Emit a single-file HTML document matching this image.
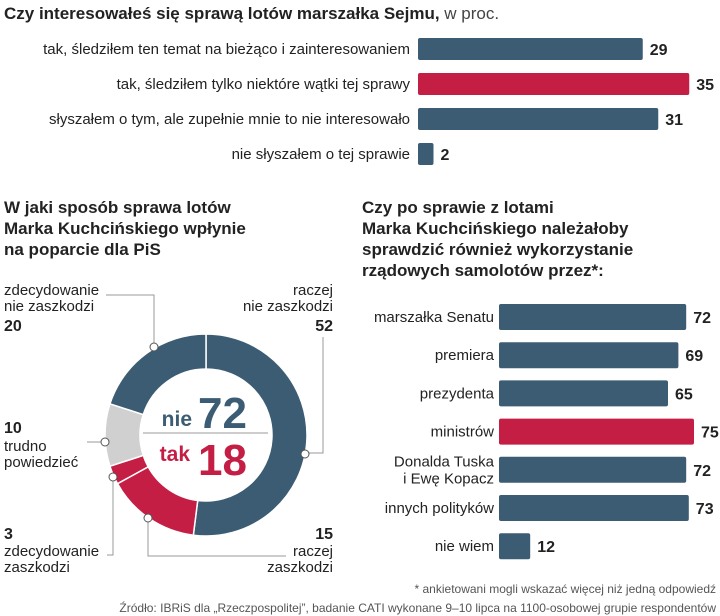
<!DOCTYPE html>
<html><head><meta charset="utf-8"><style>
body{margin:0;background:#fff;}
svg{display:block;font-family:"Liberation Sans",sans-serif;}
.lbl{font-size:15px;fill:#222;}
.val{font-size:16px;font-weight:bold;fill:#222;}
.ttl{font-size:17px;font-weight:bold;fill:#222;}
.foot{font-size:12px;fill:#555;}
</style></head><body>
<svg id="c" width="720" height="616" viewBox="0 0 720 616">
<text x="4" y="19" class="ttl">Czy interesowałeś się sprawą lotów marszałka Sejmu,<tspan font-weight="normal" fill="#444"> w proc.</tspan></text>
<g id="topchart"></g>
<text class="ttl"><tspan x="4" y="213">W jaki sposób sprawa lotów</tspan><tspan x="4" y="234">Marka Kuchcińskiego wpłynie</tspan><tspan x="4" y="255">na poparcie dla PiS</tspan></text>
<text class="ttl"><tspan x="362" y="213">Czy po sprawie z lotami</tspan><tspan x="362" y="234">Marka Kuchcińskiego należałoby</tspan><tspan x="362" y="255">sprawdzić również wykorzystanie</tspan><tspan x="362" y="276">rządowych samolotów przez*:</tspan></text>
<g id="donut"></g>
<g id="rightchart"></g>
<text x="716" y="593" text-anchor="end" class="foot">* ankietowani mogli wskazać więcej niż jedną odpowiedź</text>
<text x="716" y="612" text-anchor="end" class="foot">Źródło: IBRiS dla „Rzeczpospolitej”, badanie CATI wykonane 9–10 lipca na 1100-osobowej grupie respondentów</text>
</svg>
<script>
const BLUE="#3b5c73",RED="#c41e45",GRAY="#d0d0d0";
const topCats=["tak, śledziłem ten temat na bieżąco i zainteresowaniem","tak, śledziłem tylko niektóre wątki tej sprawy","słyszałem o tym, ale zupełnie mnie to nie interesowało","nie słyszałem o tej sprawie"];
const topVals=[29,35,31,2];
const topHi=[false,true,false,false];
const rightCats=[["marszałka Senatu"],["premiera"],["prezydenta"],["ministrów"],["Donalda Tuska","i Ewę Kopacz"],["innych polityków"],["nie wiem"]];
const rightVals=[72,69,65,75,72,73,12];
const rightHi=[false,false,false,true,false,false,false];
const donutLabels=["raczej nie zaszkodzi","raczej zaszkodzi","zdecydowanie zaszkodzi","trudno powiedzieć","zdecydowanie nie zaszkodzi"];
const donutVals=[52,15,3,10,20];
const donutColors=[BLUE,RED,RED,GRAY,BLUE];
const NS="http://www.w3.org/2000/svg";
function mk(p,t,a,txt){const e=document.createElementNS(NS,t);for(const k in a)e.setAttribute(k,a[k]);if(txt!==undefined)e.textContent=txt;p.appendChild(e);return e;}
const topG=document.getElementById('topchart');
const tx=v=>418+v*7.75;
topVals.forEach((v,i)=>{const y=38+i*35;
 const r=mk(topG,'rect',{x:418,y:y,width:tx(v)-418,height:22,rx:2,fill:topHi[i]?RED:BLUE});
 
 
 const l=mk(topG,'text',{x:410,y:y+16,'text-anchor':'end',class:'lbl'},topCats[i]);
 
 
 const t=mk(topG,'text',{x:tx(v)+7,y:y+17,class:'val','font-size':topHi[i]?19:16},v);
 
 
});
const rightG=document.getElementById('rightchart');
const rx=v=>499+v*2.6;
rightVals.forEach((v,i)=>{const y=304+i*38.2;
 const r=mk(rightG,'rect',{x:499,y:y,width:rx(v)-499,height:26,rx:2,fill:rightHi[i]?RED:BLUE});
 
 
 const lines=rightCats[i];
 lines.forEach((s,j)=>{const l=mk(rightG,'text',{x:494,y:y+18+(j-(lines.length-1)/2)*17,'text-anchor':'end',class:'lbl'},s);
  
  });
 const t=mk(rightG,'text',{x:rx(v)+7,y:y+19,class:'val','font-size':rightHi[i]?19:16},v);
 
 
});
const dG=document.getElementById('donut');
const cx=206,cy=435,R=101,r0=66;
const total=donutVals.reduce((a,b)=>a+b,0);
let acc=0;
const pt=(a,rad)=>[cx+rad*Math.sin(a),cy-rad*Math.cos(a)];
donutVals.forEach((v,i)=>{const a0=acc/total*2*Math.PI;acc+=v;const a1=acc/total*2*Math.PI;
 const lg=(a1-a0)>Math.PI?1:0;const p0=pt(a0,R),p1=pt(a1,R),q1=pt(a1,r0),q0=pt(a0,r0);
 const s=mk(dG,'path',{d:`M${p0} A${R},${R} 0 ${lg} 1 ${p1} L${q1} A${r0},${r0} 0 ${lg} 0 ${q0}Z`,fill:donutColors[i],stroke:'#fff','stroke-width':1.5});
 
 
});
const g=mk(dG,'g',{});
g.innerHTML=`<line x1="143" y1="433" x2="268" y2="433" stroke="#999" stroke-width="1"/>
<text x="192" y="426" text-anchor="end" font-size="21" font-weight="bold" fill="${BLUE}">nie</text>
<text x="198" y="428" font-size="44" font-weight="bold" fill="${BLUE}">72</text>
<text x="190" y="461" text-anchor="end" font-size="21" font-weight="bold" fill="${RED}">tak</text>
<text x="198" y="475" font-size="44" font-weight="bold" fill="${RED}">18</text>
<g stroke="#999" fill="none"><polyline points="106,295 154,295 154,347"/><polyline points="323,337 323,453 305,453"/><polyline points="87,442 105,442"/><polyline points="113,477 113,555 107,555"/><polyline points="148,518 148,556 286,556"/></g>
<g fill="#fff" stroke="#555" stroke-width="1"><circle cx="154" cy="347" r="4"/><circle cx="305" cy="454" r="4"/><circle cx="105" cy="442" r="4"/><circle cx="113" cy="477" r="4"/><circle cx="148" cy="518" r="4"/></g>
<g class="lbl"><text x="4" y="295">zdecydowanie</text><text x="4" y="311">nie zaszkodzi</text>
<text x="333" y="295" text-anchor="end">raczej</text><text x="333" y="311" text-anchor="end">nie zaszkodzi</text>
<text x="4" y="451">trudno</text><text x="4" y="467">powiedzieć</text>
<text x="4" y="556">zdecydowanie</text><text x="4" y="572">zaszkodzi</text>
<text x="333" y="556" text-anchor="end">raczej</text><text x="333" y="572" text-anchor="end">zaszkodzi</text></g>
<g class="val"><text x="4" y="331">20</text><text x="333" y="331" text-anchor="end">52</text><text x="4" y="433">10</text><text x="4" y="539">3</text><text x="333" y="539" text-anchor="end">15</text></g>`;


</script>
</body></html>
